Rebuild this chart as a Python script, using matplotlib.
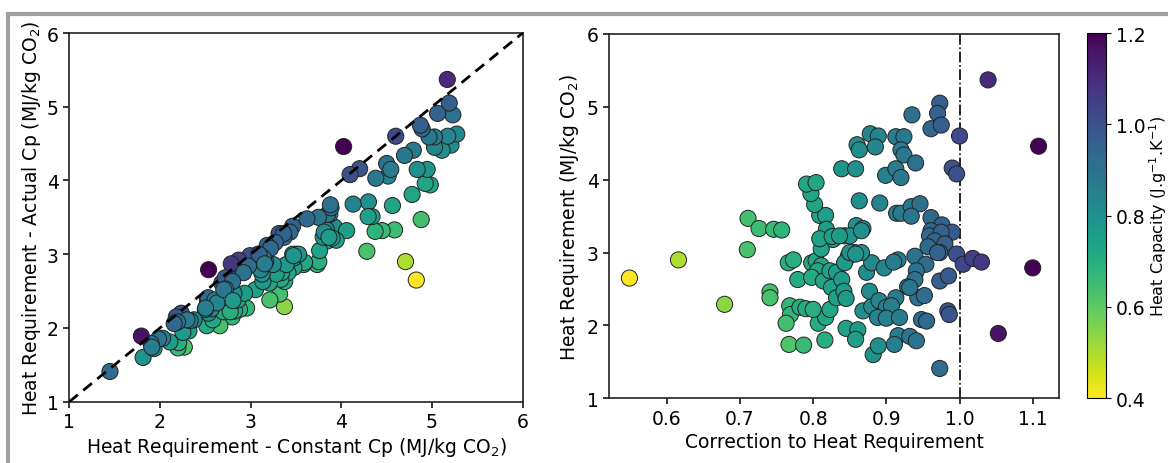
import matplotlib
matplotlib.use("Agg")
import matplotlib.pyplot as plt
import numpy as np
from matplotlib.patches import Rectangle

# correction factor (actual / constant Cp)
correction = [
    0.549, 0.616, 0.679, 0.710, 0.711, 0.726, 0.746, 0.757, 0.741, 0.741,
    0.766, 0.773, 0.779, 0.768, 0.769, 0.763, 0.767, 0.787, 0.816, 0.807,
    0.817, 0.823, 0.782, 0.790, 0.800, 0.798, 0.804, 0.811, 0.806, 0.798,
    0.814, 0.823, 0.832, 0.815, 0.827, 0.811, 0.825, 0.832, 0.843, 0.848,
    0.843, 0.839, 0.842, 0.845, 0.861, 0.858, 0.882, 0.889, 0.868, 0.880,
    0.877, 0.873, 0.880, 0.857, 0.866, 0.859, 0.868, 0.863, 0.809, 0.817,
    0.802, 0.818, 0.809, 0.797, 0.791, 0.804, 0.839, 0.858, 0.860, 0.863,
    0.878, 0.889, 0.885, 0.913, 0.924, 0.920, 0.924, 0.940, 0.899, 0.913,
    0.920, 0.935, 0.973, 0.970, 0.961, 0.975, 1.000, 0.990, 0.996, 0.891,
    0.914, 0.920, 0.934, 0.946, 0.934, 0.961, 0.976, 0.990, 0.961, 0.959,
    0.975, 0.966, 0.980, 0.957, 0.973, 0.996, 1.005, 1.018, 1.030, 0.973,
    0.985, 0.984, 0.986, 0.973, 0.850, 0.866, 0.850, 0.897, 0.916, 0.939,
    0.954, 0.941, 0.939, 0.929, 0.943, 0.952, 0.913, 0.890, 0.900, 0.907,
    0.888, 0.900, 0.918, 0.948, 0.955, 0.916, 0.932, 0.941, 0.911, 1.039,
    1.108, 1.100, 1.053, 0.970, 0.932, 0.910, 0.826, 0.836, 0.845, 0.858,
]

# heat requirement with actual Cp (MJ/kg CO2)
heat_actual = [
    2.65, 2.90, 2.29, 3.04, 3.47, 3.33, 3.32, 3.31, 2.46, 2.38,
    2.86, 2.90, 2.63, 2.27, 2.15, 2.03, 1.74, 1.73, 1.80, 2.03,
    2.11, 2.22, 2.25, 2.23, 2.22, 2.86, 2.89, 2.82, 2.75, 2.66,
    2.61, 2.75, 2.73, 3.21, 3.18, 3.05, 2.52, 2.38, 3.23, 2.95,
    2.86, 2.63, 2.47, 1.96, 1.94, 1.81, 1.60, 1.72, 2.20, 2.26,
    2.47, 2.73, 2.86, 3.00, 3.00, 3.37, 3.33, 3.71, 3.51, 3.51,
    3.66, 3.32, 3.19, 3.81, 3.94, 3.96, 4.15, 4.15, 4.48, 4.41,
    4.63, 4.60, 4.45, 4.59, 4.59, 4.41, 4.34, 4.23, 4.06, 4.15,
    4.03, 4.89, 5.05, 4.91, 4.70, 4.75, 4.60, 4.16, 4.08, 3.68,
    3.54, 3.54, 3.63, 3.67, 3.50, 3.48, 3.38, 3.28, 3.30, 3.23,
    3.28, 3.16, 3.12, 3.08, 3.00, 2.98, 2.84, 2.92, 2.87, 2.61,
    2.68, 2.20, 2.15, 1.41, 3.23, 3.30, 3.00, 2.79, 2.90, 2.95,
    2.84, 2.75, 2.63, 2.53, 2.38, 2.41, 2.38, 2.34, 2.25, 2.27,
    2.11, 2.10, 2.11, 2.08, 2.06, 1.86, 1.85, 1.79, 1.74, 5.37,
    4.46, 2.79, 1.89, 3.00, 2.52, 2.87, 3.22, 3.23, 2.37, 2.98,
]

# heat capacity (J/g.K)
heat_capacity = [
    0.40, 0.50, 0.54, 0.63, 0.64, 0.65, 0.66, 0.68, 0.64, 0.63,
    0.70, 0.70, 0.71, 0.67, 0.67, 0.64, 0.62, 0.66, 0.70, 0.71,
    0.72, 0.72, 0.70, 0.71, 0.70, 0.72, 0.72, 0.73, 0.72, 0.71,
    0.73, 0.74, 0.75, 0.74, 0.75, 0.74, 0.74, 0.74, 0.77, 0.78,
    0.77, 0.76, 0.76, 0.74, 0.76, 0.75, 0.79, 0.80, 0.80, 0.82,
    0.82, 0.81, 0.82, 0.79, 0.80, 0.80, 0.81, 0.80, 0.74, 0.75,
    0.73, 0.75, 0.74, 0.73, 0.72, 0.73, 0.78, 0.80, 0.81, 0.81,
    0.83, 0.84, 0.83, 0.87, 0.88, 0.87, 0.88, 0.90, 0.85, 0.87,
    0.88, 0.90, 0.96, 0.95, 0.94, 0.96, 1.02, 0.99, 1.00, 0.84,
    0.87, 0.88, 0.89, 0.91, 0.89, 0.93, 0.95, 0.98, 0.93, 0.93,
    0.95, 0.94, 0.96, 0.93, 0.95, 1.00, 1.03, 1.05, 1.07, 0.96,
    0.98, 0.99, 0.99, 0.92, 0.79, 0.80, 0.79, 0.84, 0.87, 0.90,
    0.92, 0.90, 0.90, 0.89, 0.91, 0.92, 0.87, 0.84, 0.85, 0.86,
    0.84, 0.85, 0.87, 0.92, 0.93, 0.86, 0.89, 0.90, 0.86, 1.10,
    1.20, 1.20, 1.16, 0.95, 0.89, 0.87, 0.75, 0.76, 0.77, 0.79,
]

correction = np.array(correction)
heat_actual = np.array(heat_actual)
heat_capacity = np.array(heat_capacity)
heat_constant = heat_actual / correction

fs = 13.5

fig = plt.figure(figsize=(11.68, 4.64), dpi=100)
ax1 = fig.add_axes([0.0593, 0.1321, 0.3882, 0.7946])
ax2 = fig.add_axes([0.5214, 0.1394, 0.3853, 0.7852])
cax = fig.add_axes([0.9307, 0.1400, 0.0163, 0.7867])

sc_kw = dict(c=heat_capacity, cmap='viridis_r', vmin=0.4, vmax=1.2,
             s=135, edgecolors='#222222', linewidths=0.7, zorder=3)

ax1.plot([1, 6], [1, 6], color='k', ls=(0, (4, 2.5)), lw=2, zorder=4)
ax1.scatter(heat_constant, heat_actual, **sc_kw)
ax1.set_xlim(1, 6)
ax1.set_ylim(1, 6)
ax1.set_xlabel('Heat Requirement - Constant Cp (MJ/kg CO$_2$)', fontsize=fs, labelpad=3)
ax1.set_ylabel('Heat Requirement - Actual Cp (MJ/kg CO$_2$)', fontsize=fs, labelpad=3)

sc = ax2.scatter(correction, heat_actual, **sc_kw)
ax2.axvline(1.0, color='k', ls='-.', lw=1.2, zorder=2)
ax2.set_ylim(1, 6)
ax2.set_xlabel('Correction to Heat Requirement', fontsize=fs, labelpad=3)
ax2.set_ylabel('Heat Requirement (MJ/kg CO$_2$)', fontsize=fs)

for ax in (ax1, ax2):
    ax.tick_params(labelsize=fs, width=1.1, length=4)
    for sp in ax.spines.values():
        sp.set_linewidth(1.2)
        sp.set_color('#222222')

cbar = fig.colorbar(sc, cax=cax)
cbar.set_ticks([0.4, 0.6, 0.8, 1.0, 1.2])
cbar.ax.tick_params(labelsize=fs)
cbar.set_label('Heat Capacity (J.g$^{-1}$.K$^{-1}$)', fontsize=11.5, labelpad=1.5)

# grey frame from the original screenshot
fig.add_artist(Rectangle((8 / 1168, -0.1), 1.2, 1.1 - 14.5 / 464,
                         transform=fig.transFigure, fill=False,
                         edgecolor='#a0a0a0', lw=3))

fig.savefig('out.png', dpi=100)
